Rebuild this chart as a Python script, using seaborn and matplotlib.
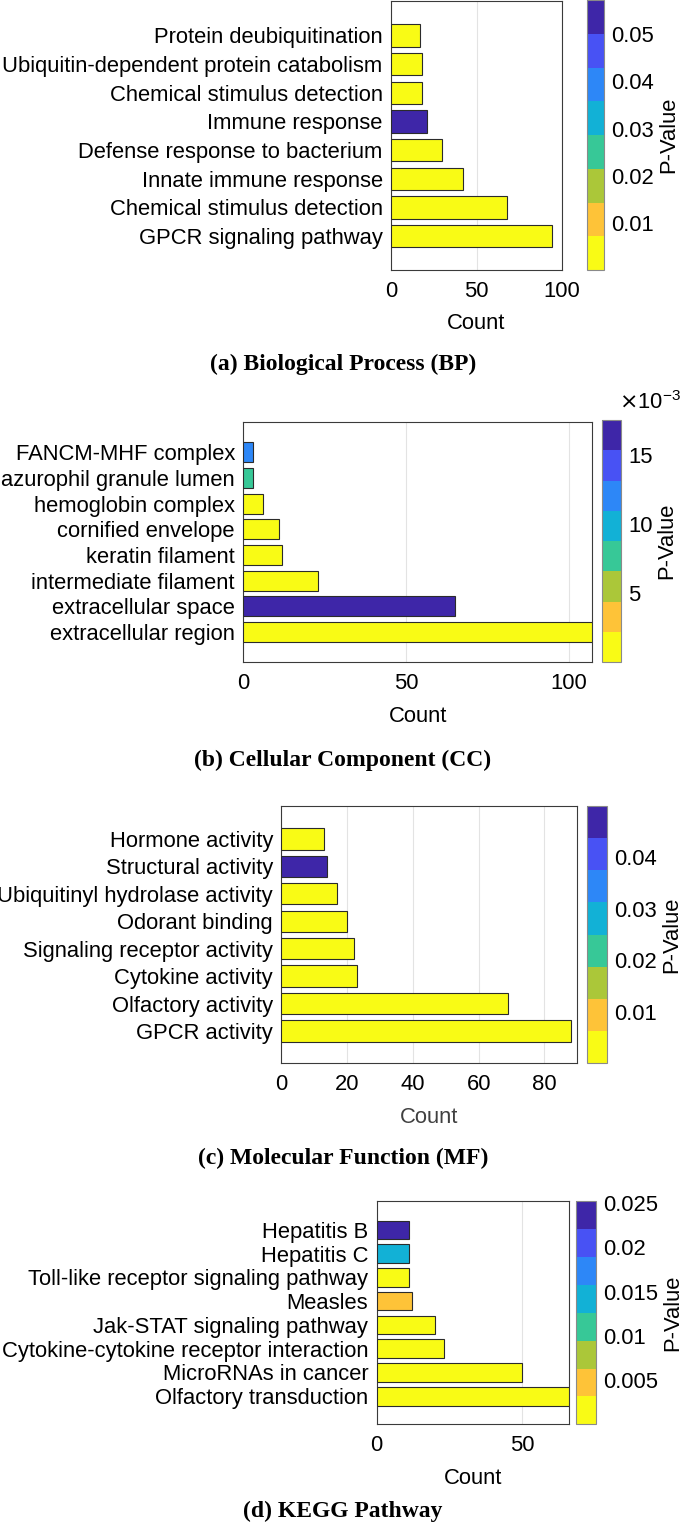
import numpy as np
import pandas as pd
import matplotlib
matplotlib.use("Agg")
import matplotlib.pyplot as plt
from matplotlib.colors import ListedColormap, Normalize
from matplotlib.cm import ScalarMappable
import seaborn as sns

# ---------------- data ----------------
bp_terms = ["Protein deubiquitination", "Ubiquitin-dependent protein catabolism",
            "Chemical stimulus detection", "Immune response",
            "Defense response to bacterium", "Innate immune response",
            "Chemical stimulus detection", "GPCR signaling pathway"]
bp_counts = [17, 18, 18, 21, 30, 42, 68, 94]
bp_pvals = [0.0030, 0.0025, 0.0020, 0.0560, 0.0015, 0.0010, 0.0008, 0.0004]

cc_terms = ["FANCM-MHF complex", "azurophil granule lumen", "hemoglobin complex",
            "cornified envelope", "keratin filament", "intermediate filament",
            "extracellular space", "extracellular region"]
cc_counts = [3, 3, 6, 11, 12, 23, 65, 107]
cc_pvals = [0.0121, 0.0077, 0.0012, 0.0009, 0.0007, 0.0005, 0.0170, 0.0002]

mf_terms = ["Hormone activity", "Structural activity", "Ubiquitinyl hydrolase activity",
            "Odorant binding", "Signaling receptor activity", "Cytokine activity",
            "Olfactory activity", "GPCR activity"]
mf_counts = [13, 14, 17, 20, 22, 23, 69, 88]
mf_pvals = [0.0040, 0.0470, 0.0030, 0.0020, 0.0015, 0.0010, 0.0006, 0.0003]

kegg_terms = ["Hepatitis B", "Hepatitis C", "Toll-like receptor signaling pathway",
              "Measles", "Jak-STAT signaling pathway",
              "Cytokine-cytokine receptor interaction", "MicroRNAs in cancer",
              "Olfactory transduction"]
kegg_counts = [11, 11, 11, 12, 20, 23, 50, 66]
kegg_pvals = [0.0245, 0.0142, 0.0025, 0.0048, 0.0020, 0.0015, 0.0010, 0.0004]

titles = ["(a) Biological Process (BP)", "(b) Cellular Component (CC)",
          "(c) Molecular Function (MF)", "(d) KEGG Pathway"]

x_ticks = [[0, 50, 100], [0, 50, 100], [0, 20, 40, 60, 80], [0, 50]]
x_max = [100, 107, 90, 66]

cb_ranges = [(0.0001, 0.0572), (0.00002, 0.0175), (0.00017, 0.0498), (0.0, 0.0252)]
cb_ticks = [[0.01, 0.02, 0.03, 0.04, 0.05],
            [0.005, 0.010, 0.015],
            [0.01, 0.02, 0.03, 0.04],
            [0.005, 0.010, 0.015, 0.020, 0.025]]
cb_ticklabels = [["0.01", "0.02", "0.03", "0.04", "0.05"],
                 ["5", "10", "15"],
                 ["0.01", "0.02", "0.03", "0.04"],
                 ["0.005", "0.01", "0.015", "0.02", "0.025"]]

# parula(8)
parula8 = ["#f9fb15", "#fec338", "#abc739", "#37c897",
           "#12b1d6", "#2d87f7", "#4852f4", "#3e26a8"]
cmap = ListedColormap(parula8)

# ---------------- layout (pixels) ----------------
W, H = 685, 1523
sns.set_theme(style="white")
plt.rcParams["font.family"] = ["Liberation Sans", "DejaVu Sans"]
plt.rcParams["text.color"] = "black"
plt.rcParams["axes.labelcolor"] = "black"

fig = plt.figure(figsize=(W / 100, H / 100), dpi=100)
fig.patch.set_facecolor("white")

def rect(l, t, r, b):
    return [l / W, 1 - b / H, (r - l) / W, (b - t) / H]

ax_rects = [(391, 1, 562, 270), (243.3, 421.7, 592, 662.3),
            (281.3, 806, 577.3, 1063.3), (376.7, 1201.3, 568.7, 1424.3)]
cb_rects = [(587, 0, 604, 270), (602, 420, 621, 662.3),
            (586.7, 806, 607.3, 1063.3), (575.7, 1201.3, 596, 1424.3)]
title_y = [364, 760, 1158, 1511]
xlabel_colors = ["black", "black", "#404040", "black"]

panels = [(bp_terms, bp_counts, bp_pvals), (cc_terms, cc_counts, cc_pvals),
          (mf_terms, mf_counts, mf_pvals), (kegg_terms, kegg_counts, kegg_pvals)]

FS = 15.8
edge = "#2b2b2b"

for i, (terms, counts, pvals) in enumerate(panels):
    vmin, vmax = cb_ranges[i]
    norm = Normalize(vmin=vmin, vmax=vmax)
    n = len(terms)
    keys = [str(k) for k in range(n)]
    colors = [cmap(norm(p)) for p in pvals]
    df = pd.DataFrame({"key": keys, "count": counts, "p": pvals})

    ax = fig.add_axes(rect(*ax_rects[i]))
    sns.barplot(data=df, x="count", y="key", hue="key", order=keys, hue_order=keys,
                palette=dict(zip(keys, colors)), legend=False, orient="h",
                width=0.78, edgecolor=edge, linewidth=0.8, saturation=1, ax=ax,
                zorder=3)
    ax.set_yticks(range(n))
    ax.set_yticklabels(terms, fontsize=FS, color="black")
    ax.set_ylim(n - 1 + 1.18, -1.2)
    ax.set_xlim(0, x_max[i])
    ax.set_xticks(x_ticks[i])
    ax.set_xticklabels([str(t) for t in x_ticks[i]], fontsize=FS, color="black")
    ax.tick_params(axis="x", direction="in", length=0, pad=8)
    ax.tick_params(axis="y", length=0, pad=6)
    ax.set_ylabel("")
    ax.set_xlabel("Count", fontsize=FS, color=xlabel_colors[i], labelpad=8)
    ax.grid(axis="x", color="#e3e3e3", linewidth=0.8, zorder=0)
    ax.set_axisbelow(True)
    for s in ax.spines.values():
        s.set_visible(True)
        s.set_color("#3a3a3a")
        s.set_linewidth(0.8)
    ax.set_facecolor("white")

    cax = fig.add_axes(rect(*cb_rects[i]))
    sm = ScalarMappable(norm=norm, cmap=cmap)
    cb = fig.colorbar(sm, cax=cax)
    cb.set_ticks(cb_ticks[i])
    cb.set_ticklabels(cb_ticklabels[i])
    cb.ax.tick_params(labelsize=FS, direction="in", length=3, width=0.8,
                      color="#333333", labelcolor="black", pad=5)
    cb.outline.set_edgecolor("#8a8a8a")
    cb.outline.set_linewidth(0.8)
    cb.set_label("P-Value", fontsize=FS, labelpad=3, color="black")

    fig.text(343 / W, 1 - title_y[i] / H, titles[i], ha="center", va="center",
             fontsize=17, fontweight="bold", color="black",
             family=["Liberation Serif", "DejaVu Serif"])

# offset label for CC colorbar
fig.text(650 / W, 1 - 403 / H, r"$\times$10$^{\mathregular{-3}}$", ha="center", va="center",
         fontsize=FS, color="black")

fig.savefig("out.png", dpi=100, facecolor="white")
